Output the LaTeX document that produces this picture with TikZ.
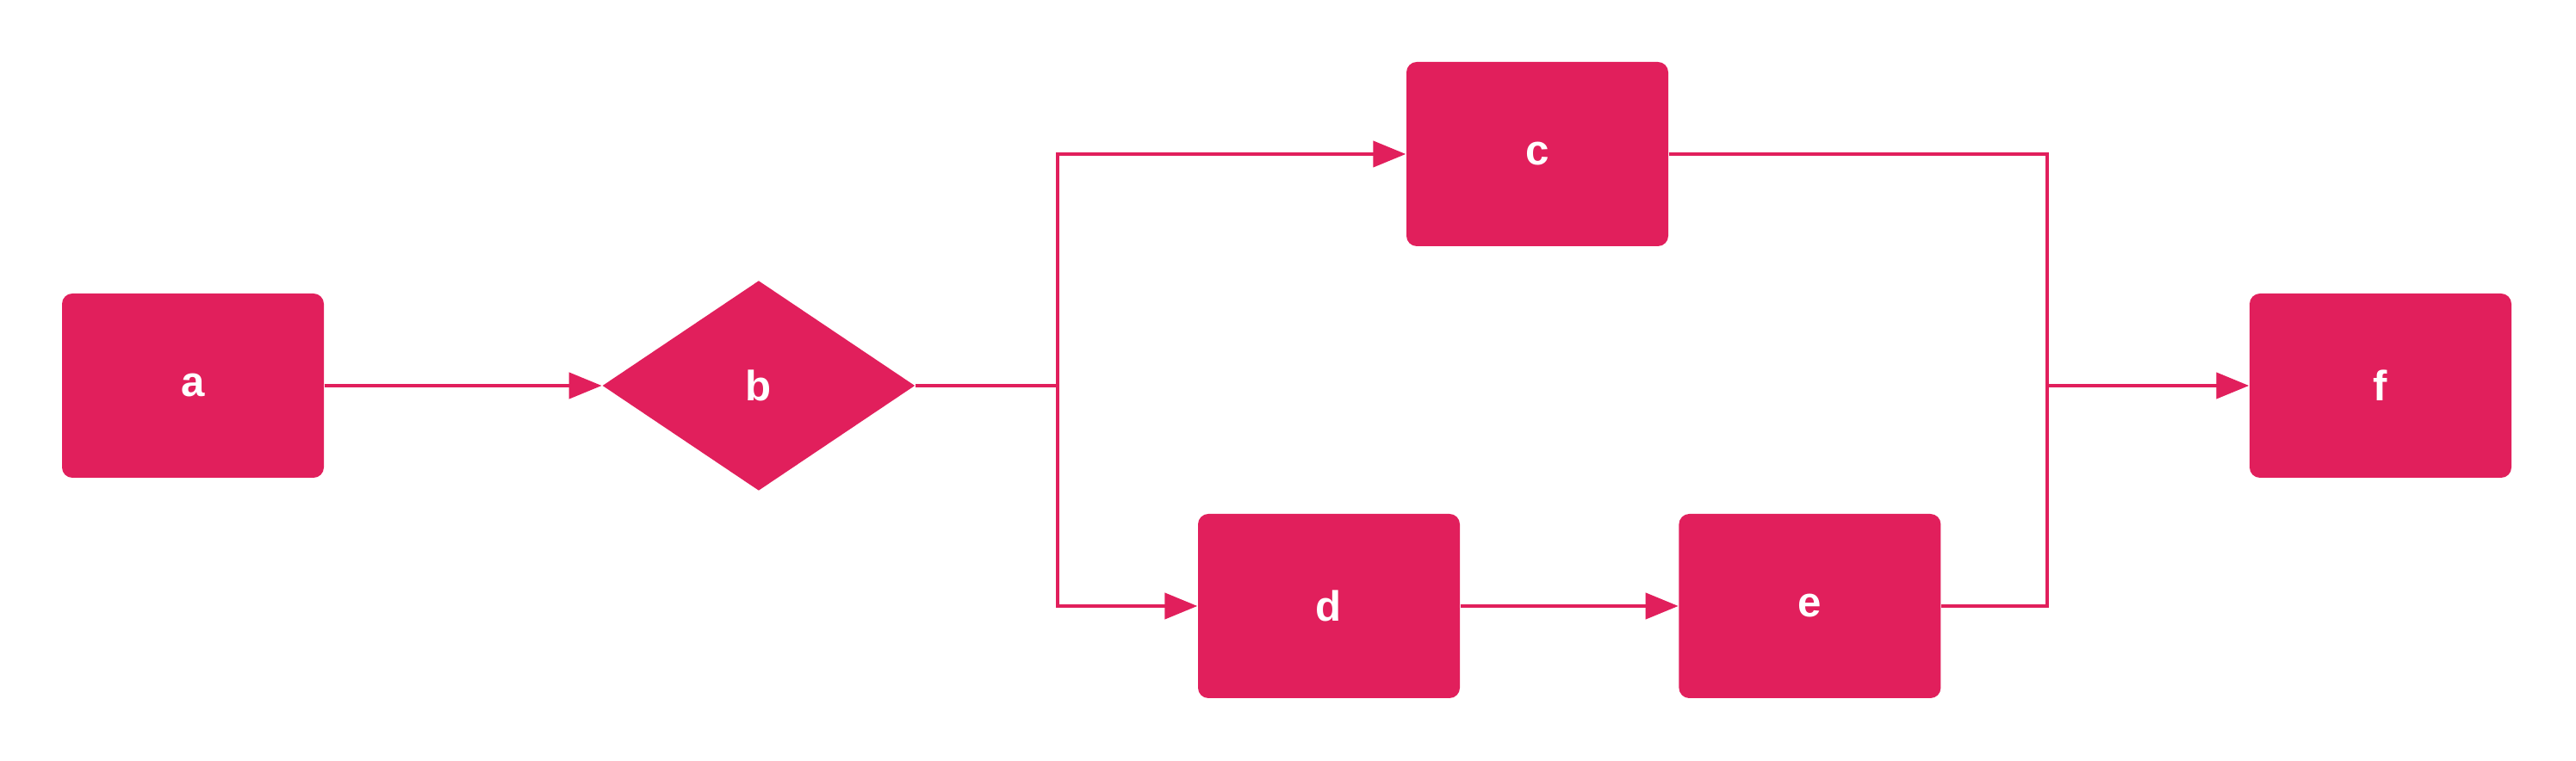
\documentclass[tikz,border=0pt]{standalone}
\usepackage{fontspec}
\setmainfont{Liberation Sans}
\usetikzlibrary{arrows.meta}
\usetikzlibrary{positioning}
\usetikzlibrary{shapes.geometric}
\definecolor{flowred}{RGB}{225,31,92}

\begin{document}
\begin{tikzpicture}[font=\fontsize{14}{16}\selectfont\bfseries,
                    every node/.style={text=white},
                    task/.style={
                        fill=flowred,
                        rounded corners=0.12cm,
                        minimum width=3.04cm,
                        minimum height=2.14cm,
                        inner sep=0pt
                    },
                    gate/.style={
                        diamond,
                        fill=flowred,
                        minimum width=3.63cm,
                        minimum height=2.44cm,
                        inner sep=0pt
                    },
                    flow/.style={
                        draw=flowred,
                        line width=1.2pt
                    },
                    arr/.style={
                        flow,
                        -{Triangle[length=3.8mm,width=3mm]}
                    }]

    \useasboundingbox (0,0) rectangle (29.91,8.84);

    \node[task] (a) at (2.24,4.36) {a};
    \node[gate, right=3.22cm of a] (b) {b};
    \node[task] (c) at (17.85,7.05) {c};
    \node[task] (d) at (15.43,1.80) {d};
    \node[task, right=2.53cm of d] (e) {e};
    \node[task] (f) at (27.64,4.36) {f};

    \coordinate (split) at (12.28,4.36);
    \coordinate (merge) at (23.77,4.36);

    \draw[arr] (a) -- (b);
    \draw[flow] (b) -- (split);
    \draw[arr] (split) |- (c);
    \draw[arr] (split) |- (d);
    \draw[arr] (d) -- (e);
    \draw[flow] (c) -| (merge);
    \draw[flow] (e) -| (merge);
    \draw[arr] (merge) -- (f);

\end{tikzpicture}
\end{document}
